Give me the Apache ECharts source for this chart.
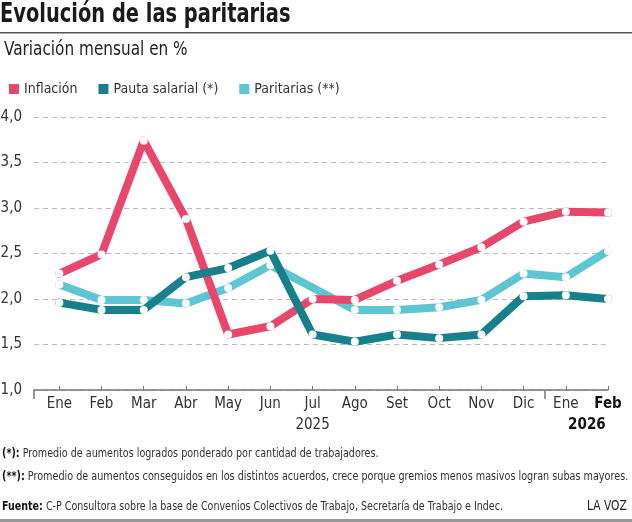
<!DOCTYPE html>
<html>
<head>
<meta charset="utf-8">
<title>Evolución de las paritarias</title>
<script src="https://cdn.jsdelivr.net/npm/echarts@6/dist/echarts.min.js"></script>
</head>
<body style="margin:0;padding:0;background:#fff">
<div id="chart" style="width:632px;height:522px;"></div>
<script type="text/javascript">
// datos
var meses = ['Ene', 'Feb', 'Mar', 'Abr', 'May', 'Jun', 'Jul', 'Ago', 'Set', 'Oct', 'Nov', 'Dic', 'Ene', 'Feb'];
var anios = ['2025', '2026'];
var inflacion = [2.28, 2.49, 3.74, 2.88, 1.61, 1.70, 2.00, 1.99, 2.20, 2.38, 2.57, 2.85, 2.96, 2.95];
var pautaSalarial = [1.96, 1.88, 1.88, 2.24, 2.34, 2.53, 1.61, 1.53, 1.61, 1.57, 1.61, 2.03, 2.04, 2.00];
var paritarias = [2.16, 1.99, 1.99, 1.95, 2.12, 2.37, null, 1.88, 1.88, 1.91, 1.99, 2.28, 2.24, 2.53];
var yTicks = [1.0, 1.5, 2.0, 2.5, 3.0, 3.5, 4.0];

var FONT = "'DejaVu Sans Condensed', 'Liberation Sans Narrow', Roboto, sans-serif";
var ROJO = '#e8466b';
var TEAL = '#17808b';
var CELESTE = '#5ec5d2';

function pares(arr) {
    return arr.map(function (v, i) { return [i, v]; });
}

// texto comprimido a lo ancho (la fuente original es condensada)
function texto(x, y, s, font, sx, extra) {
    var st = { text: s, font: font, fill: '#333', textVerticalAlign: 'top' };
    if (extra) for (var k in extra) st[k] = extra[k];
    return { type: 'text', x: x, y: y, scaleX: sx, style: st };
}

var myChart = echarts.init(document.getElementById('chart'));

var richBold = { b: { font: 'bold 13px ' + FONT, fill: '#111' } };
var indices = meses.map(function (m, i) { return i; });

var option = {
    backgroundColor: '#fff',
    animation: false,
    textStyle: { fontFamily: FONT },
    legend: {
        left: 4,
        top: 77,
        itemWidth: 10,
        itemHeight: 10,
        itemGap: 21,
        icon: 'rect',
        textStyle: { fontFamily: FONT, fontSize: 14, color: '#333' },
        data: [
            { name: 'Inflación', itemStyle: { color: ROJO, borderWidth: 0 } },
            { name: 'Pauta salarial (*)', itemStyle: { color: TEAL, borderWidth: 0 } },
            { name: 'Paritarias (**)', itemStyle: { color: CELESTE, borderWidth: 0 } }
        ]
    },
    grid: { left: 34, right: 24, top: 117, bottom: 132, outerBoundsMode: 'none', containLabel: false },
    xAxis: [{
        type: 'value',
        min: -0.6,
        max: 13,
        splitLine: { show: false },
        axisLine: { show: true, lineStyle: { color: '#777', width: 1.5 } },
        axisTick: {
            show: true,
            inside: true,
            length: 4,
            customValues: indices,
            lineStyle: { color: '#777' }
        },
        axisLabel: {
            customValues: indices,
            showMaxLabel: true,
            showMinLabel: true,
            hideOverlap: false,
            margin: 7,
            fontFamily: FONT,
            fontSize: 15,
            color: '#333',
            formatter: function (v) {
                var i = Math.round(v);
                if (i === 13) return '{b|' + meses[i] + '}';
                return meses[i];
            },
            rich: {
                b: { fontFamily: FONT, fontSize: 15, fontWeight: 'bold', color: '#111' }
            }
        }
    }, {
        // marcas largas (inicio del eje y corte de año) y rótulos de año
        type: 'value',
        min: -0.6,
        max: 13,
        position: 'bottom',
        splitLine: { show: false },
        axisLine: { show: false },
        axisTick: {
            show: true,
            inside: false,
            length: 9,
            customValues: [-0.6, 11.5],
            lineStyle: { color: '#777', width: 1.5 }
        },
        axisLabel: {
            customValues: [6, 12.5],
            showMaxLabel: true,
            showMinLabel: true,
            margin: 28,
            fontFamily: FONT,
            fontSize: 15,
            color: '#333',
            formatter: function (v) {
                return v > 12 ? '{b|' + anios[1] + '}' : anios[0];
            },
            rich: {
                b: { fontFamily: FONT, fontSize: 15, fontWeight: 'bold', color: '#111' }
            }
        }
    }],
    yAxis: {
        type: 'value',
        min: yTicks[0],
        max: yTicks[yTicks.length - 1],
        interval: 0.5,
        axisLine: { show: false },
        axisTick: { show: false },
        axisLabel: {
            margin: 12,
            fontFamily: FONT,
            fontSize: 15,
            color: '#333',
            formatter: function (v) { return v.toFixed(1).replace('.', ','); }
        },
        splitLine: {
            show: true,
            lineStyle: { color: '#bbb', type: [5, 4], width: 1 }
        }
    },
    series: [{
        name: 'Paritarias (**)',
        type: 'line',
        data: pares(paritarias),
        connectNulls: true,
        z: 2,
        symbol: 'circle',
        symbolSize: 8,
        lineStyle: { color: CELESTE, width: 8, cap: 'round', join: 'round' },
        itemStyle: { color: '#fff', borderWidth: 0 }
    }, {
        name: 'Inflación',
        type: 'line',
        data: pares(inflacion),
        z: 3,
        symbol: 'circle',
        symbolSize: 8,
        lineStyle: { color: ROJO, width: 8, cap: 'round', join: 'round' },
        itemStyle: { color: '#fff', borderWidth: 0 }
    }, {
        name: 'Pauta salarial (*)',
        type: 'line',
        data: pares(pautaSalarial),
        z: 4,
        symbol: 'circle',
        symbolSize: 8,
        lineStyle: { color: TEAL, width: 8, cap: 'round', join: 'round' },
        itemStyle: { color: '#fff', borderWidth: 0 }
    }],
    graphic: [
        texto(0, 1, 'Evolución de las paritarias', 'bold 27px ' + FONT, 0.8, { fill: '#1a1a1a' }),
        {
            type: 'rect', left: 0, top: 32,
            shape: { width: 632, height: 1.5 },
            style: { fill: '#555' }
        },
        texto(4, 40, 'Variación mensual en %', '20px ' + FONT, 0.85, { fill: '#222' }),
        texto(2, 447, '{b|(*):} Promedio de aumentos logrados ponderado por cantidad de trabajadores.',
            '13px ' + FONT, 0.82, { rich: richBold }),
        texto(2, 470, '{b|(**):} Promedio de aumentos conseguidos en los distintos acuerdos, crece porque gremios menos masivos logran subas mayores.',
            '13px ' + FONT, 0.825, { rich: richBold }),
        texto(2, 500, '{b|Fuente:} C-P Consultora sobre la base de Convenios Colectivos de Trabajo, Secretaría de Trabajo e Indec.',
            '13px ' + FONT, 0.815, { rich: richBold }),
        texto(587, 499, 'LA VOZ', '14px ' + FONT, 0.85, { fill: '#222' }),
        {
            type: 'rect', left: 0, top: 519,
            shape: { width: 632, height: 3 },
            style: { fill: '#999' }
        }
    ]
};

myChart.setOption(option);
</script>
</body>
</html>
